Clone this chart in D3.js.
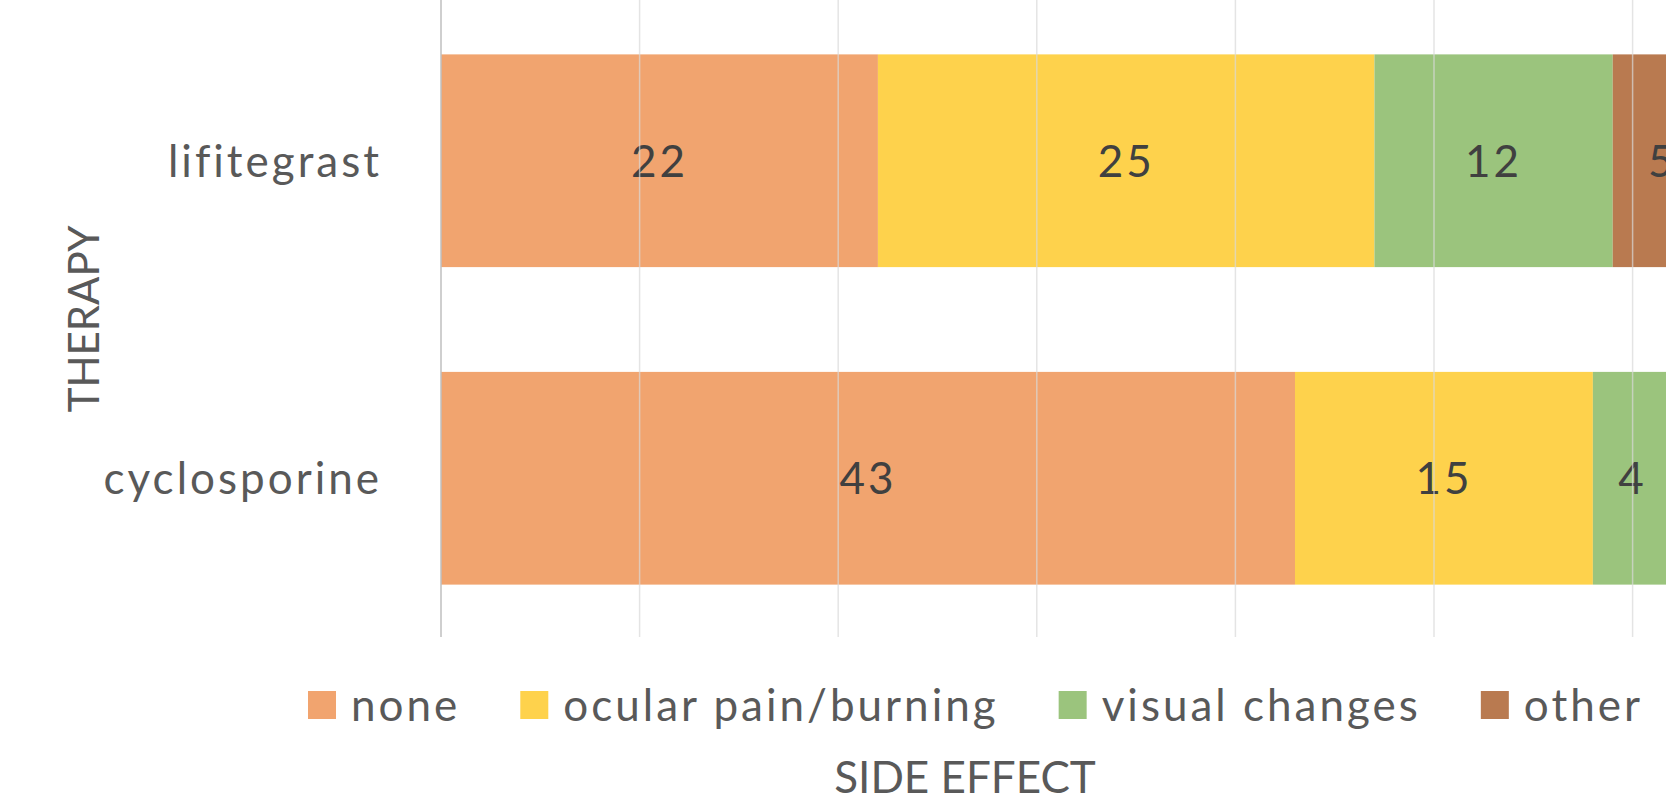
<!DOCTYPE html>
<html>
<head>
<meta charset="utf-8">
<script src="https://cdn.jsdelivr.net/npm/d3@7"></script>
<style>
  body { margin: 0; background: #fff; overflow: hidden; }
  text { font-family: Lato, "Open Sans", sans-serif; fill: #595959; }
  .lbl { letter-spacing: 3px; }
</style>
</head>
<body>
<svg id="chart"></svg>
<script>
// therapies (top to bottom) and side effect series
var therapies = ["lifitegrast", "cyclosporine"];
var effects = ["none", "ocular pain/burning", "visual changes", "other"];
var none = [22, 43];
var ocular = [25, 15];
var visual = [12, 4];
var other = [5, 2];
var ticks = [0, 10, 20, 30, 40, 50, 60, 70];

var colors = ["#F1A46F", "#FED24C", "#9BC47D", "#B97A50"];

var width = 1666, height = 800;
var svg = d3.select("#chart").attr("width", width).attr("height", height);

var rows = therapies.map(function (t, i) {
  return { therapy: t, "none": none[i], "ocular pain/burning": ocular[i], "visual changes": visual[i], "other": other[i] };
});
var series = d3.stack().keys(effects)(rows);

var x = d3.scaleLinear().domain([0, 70]).range([441, 441 + 70 * 19.86]);
var y = d3.scaleBand().domain(therapies).range([2, 637]).paddingInner(0.33).paddingOuter(0.165);
var color = d3.scaleOrdinal().domain(effects).range(colors);

// bars
var g = svg.append("g");
series.forEach(function (s) {
  g.selectAll(null)
    .data(s)
    .join("rect")
      .attr("x", d => x(d[0]))
      .attr("y", d => y(d.data.therapy))
      .attr("width", d => x(d[1]) - x(d[0]))
      .attr("height", y.bandwidth())
      .attr("fill", color(s.key));

  g.selectAll(null)
    .data(s)
    .join("text")
      .attr("class", "lbl")
      .attr("x", d => (x(d[0]) + x(d[1])) / 2)
      .attr("y", d => y(d.data.therapy) + y.bandwidth() / 2)
      .attr("dy", "0.36em")
      .attr("text-anchor", "middle")
      .attr("font-size", 44)
      .style("fill", "#404040")
      .text(d => d[1] - d[0]);
});

// gridlines (drawn on top, faint like the original)
svg.append("g")
  .selectAll("line")
  .data(ticks)
  .join("line")
    .attr("x1", d => x(d)).attr("x2", d => x(d))
    .attr("y1", 0).attr("y2", 637)
    .attr("stroke", d => d === 0 ? "#bfbfbf" : "#d9d9d9")
    .attr("stroke-width", 1.5)
    .attr("stroke-opacity", d => d === 0 ? 1 : 0.7);

// category labels
svg.append("g")
  .selectAll("text")
  .data(therapies)
  .join("text")
    .attr("class", "lbl")
    .attr("x", 382)
    .attr("y", d => y(d) + y.bandwidth() / 2)
    .attr("dy", "0.36em")
    .attr("text-anchor", "end")
    .attr("font-size", 44)
    .text(d => d);

// y axis title
svg.append("text")
  .attr("transform", "translate(99,319) rotate(-90)")
  .attr("text-anchor", "middle")
  .attr("font-size", 42)
  .text("THERAPY");

// legend
var legend = svg.append("g");
var lx = 308;
effects.forEach(function (e) {
  legend.append("rect")
    .attr("x", lx).attr("y", 691)
    .attr("width", 28).attr("height", 28)
    .attr("fill", color(e));
  var t = legend.append("text")
    .attr("class", "lbl")
    .attr("x", lx + 43).attr("y", 705)
    .attr("dy", "0.36em")
    .attr("font-size", 44)
    .text(e);
  lx += 43 + t.node().getComputedTextLength() + 60;
});

// x axis title
svg.append("text")
  .attr("x", 965).attr("y", 793)
  .attr("text-anchor", "middle")
  .attr("font-size", 44)
  .text("SIDE EFFECT");
</script>
</body>
</html>
